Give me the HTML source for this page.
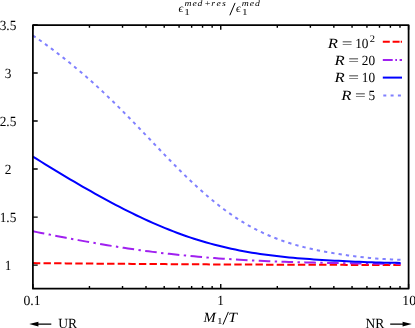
<!DOCTYPE html>
<html><head><meta charset="utf-8"><title>plot</title>
<style>html,body{margin:0;padding:0;background:#fff;overflow:hidden}svg{display:block;will-change:transform}text{font-family:"Liberation Serif",serif;fill:#000;text-rendering:geometricPrecision}</style></head>
<body>
<svg width="415" height="328" viewBox="0 0 415 328">
<rect x="0" y="0" width="415" height="328" fill="#fff"/>
<g fill="none" stroke-width="2" stroke-linecap="butt" stroke-linejoin="round">
<path d="M32.90,263.09 L37.03,263.13 L41.16,263.16 L45.29,263.20 L49.43,263.24 L53.56,263.27 L57.69,263.31 L61.82,263.35 L65.95,263.38 L70.08,263.42 L74.21,263.45 L78.35,263.49 L82.48,263.52 L86.61,263.55 L90.74,263.59 L94.87,263.62 L99.00,263.65 L103.13,263.68 L107.27,263.72 L111.40,263.75 L115.53,263.78 L119.66,263.81 L123.79,263.84 L127.92,263.87 L132.06,263.90 L136.19,263.93 L140.32,263.95 L144.45,263.98 L148.58,264.01 L152.71,264.04 L156.84,264.06 L160.98,264.09 L165.11,264.12 L169.24,264.14 L173.37,264.17 L177.50,264.19 L181.63,264.22 L185.76,264.24 L189.90,264.27 L194.03,264.29 L198.16,264.31 L202.29,264.33 L206.42,264.36 L210.55,264.38 L214.68,264.40 L218.82,264.42 L222.95,264.44 L227.08,264.46 L231.21,264.48 L235.34,264.50 L239.47,264.52 L243.60,264.54 L247.74,264.56 L251.87,264.58 L256.00,264.59 L260.13,264.61 L264.26,264.63 L268.39,264.64 L272.52,264.66 L276.66,264.67 L280.79,264.69 L284.92,264.70 L289.05,264.72 L293.18,264.73 L297.31,264.75 L301.44,264.76 L305.58,264.77 L309.71,264.79 L313.84,264.80 L317.97,264.81 L322.10,264.82 L326.23,264.83 L330.37,264.84 L334.50,264.85 L338.63,264.86 L342.76,264.87 L346.89,264.88 L351.02,264.89 L355.15,264.90 L359.29,264.90 L363.42,264.91 L367.55,264.92 L371.68,264.93 L375.81,264.93 L379.94,264.94 L384.07,264.94 L388.21,264.95 L392.34,264.95 L396.47,264.96 L400.60,264.96" stroke="#ff0000" stroke-dasharray="7.4 3.2"/>
<path d="M32.90,231.33 L37.03,232.14 L41.16,232.96 L45.29,233.77 L49.43,234.58 L53.56,235.39 L57.69,236.19 L61.82,236.99 L65.95,237.78 L70.08,238.56 L74.21,239.34 L78.35,240.11 L82.48,240.87 L86.61,241.62 L90.74,242.36 L94.87,243.08 L99.00,243.80 L103.13,244.50 L107.27,245.19 L111.40,245.87 L115.53,246.54 L119.66,247.19 L123.79,247.82 L127.92,248.44 L132.06,249.05 L136.19,249.64 L140.32,250.22 L144.45,250.79 L148.58,251.33 L152.71,251.87 L156.84,252.38 L160.98,252.88 L165.11,253.37 L169.24,253.84 L173.37,254.30 L177.50,254.74 L181.63,255.17 L185.76,255.58 L189.90,255.98 L194.03,256.36 L198.16,256.73 L202.29,257.09 L206.42,257.43 L210.55,257.76 L214.68,258.08 L218.82,258.38 L222.95,258.67 L227.08,258.95 L231.21,259.21 L235.34,259.47 L239.47,259.71 L243.60,259.95 L247.74,260.17 L251.87,260.38 L256.00,260.58 L260.13,260.78 L264.26,260.96 L268.39,261.14 L272.52,261.31 L276.66,261.46 L280.79,261.62 L284.92,261.76 L289.05,261.90 L293.18,262.03 L297.31,262.15 L301.44,262.27 L305.58,262.38 L309.71,262.49 L313.84,262.59 L317.97,262.69 L322.10,262.79 L326.23,262.87 L330.37,262.96 L334.50,263.04 L338.63,263.12 L342.76,263.19 L346.89,263.26 L351.02,263.33 L355.15,263.39 L359.29,263.45 L363.42,263.51 L367.55,263.56 L371.68,263.61 L375.81,263.66 L379.94,263.71 L384.07,263.75 L388.21,263.78 L392.34,263.82 L396.47,263.85 L400.60,263.88" stroke="#a020f0" stroke-dasharray="11.6 4.4 2.4 4.4"/>
<path d="M32.90,156.57 L37.03,159.16 L41.16,161.73 L45.29,164.29 L49.43,166.83 L53.56,169.35 L57.69,171.85 L61.82,174.34 L65.95,176.81 L70.08,179.27 L74.21,181.70 L78.35,184.12 L82.48,186.51 L86.61,188.89 L90.74,191.24 L94.87,193.57 L99.00,195.87 L103.13,198.15 L107.27,200.40 L111.40,202.62 L115.53,204.81 L119.66,206.97 L123.79,209.09 L127.92,211.18 L132.06,213.22 L136.19,215.24 L140.32,217.21 L144.45,219.14 L148.58,221.03 L152.71,222.87 L156.84,224.67 L160.98,226.42 L165.11,228.13 L169.24,229.79 L173.37,231.40 L177.50,232.96 L181.63,234.48 L185.76,235.94 L189.90,237.35 L194.03,238.71 L198.16,240.02 L202.29,241.28 L206.42,242.49 L210.55,243.65 L214.68,244.77 L218.82,245.83 L222.95,246.84 L227.08,247.81 L231.21,248.73 L235.34,249.60 L239.47,250.43 L243.60,251.21 L247.74,251.96 L251.87,252.66 L256.00,253.32 L260.13,253.95 L264.26,254.54 L268.39,255.09 L272.52,255.61 L276.66,256.10 L280.79,256.56 L284.92,256.99 L289.05,257.40 L293.18,257.78 L297.31,258.14 L301.44,258.48 L305.58,258.80 L309.71,259.11 L313.84,259.39 L317.97,259.67 L322.10,259.93 L326.23,260.17 L330.37,260.41 L334.50,260.64 L338.63,260.86 L342.76,261.07 L346.89,261.27 L351.02,261.47 L355.15,261.66 L359.29,261.84 L363.42,262.01 L367.55,262.17 L371.68,262.32 L375.81,262.46 L379.94,262.58 L384.07,262.69 L388.21,262.77 L392.34,262.84 L396.47,262.87 L400.60,262.88" stroke="#0000ff"/>
<path d="M32.90,35.46 L35.99,37.56 L39.08,39.71 L42.17,41.89 L45.26,44.11 L48.35,46.37 L51.44,48.66 L54.53,50.98 L57.62,53.34 L60.71,55.72 L63.80,58.14 L66.89,60.60 L69.98,63.09 L73.07,65.61 L76.16,68.17 L79.25,70.76 L82.34,73.40 L85.43,76.07 L88.52,78.77 L91.61,81.52 L94.70,84.30 L97.79,87.12 L100.88,89.98 L103.97,92.88 L107.06,95.82 L110.15,98.79 L113.24,101.79 L116.33,104.83 L119.42,107.90 L122.51,111.00 L125.60,114.13 L128.69,117.28 L131.78,120.45 L134.87,123.65 L137.96,126.86 L141.05,130.09 L144.14,133.32 L147.23,136.57 L150.32,139.81 L153.41,143.06 L156.50,146.31 L159.59,149.55 L162.68,152.77 L165.77,155.99 L168.86,159.18 L171.95,162.35 L175.04,165.50 L178.13,168.62 L181.22,171.70 L184.31,174.75 L187.40,177.76 L190.49,180.73 L193.58,183.65 L196.67,186.52 L199.76,189.33 L202.85,192.10 L205.94,194.81 L209.03,197.45 L212.12,200.04 L215.21,202.56 L218.29,205.02 L221.38,207.41 L224.47,209.74 L227.56,211.99 L230.65,214.18 L233.74,216.29 L236.83,218.34 L239.92,220.32 L243.01,222.22 L246.10,224.06 L249.19,225.83 L252.28,227.52 L255.37,229.16 L258.46,230.72 L261.55,232.22 L264.64,233.66 L267.73,235.03 L270.82,236.34 L273.91,237.60 L277.00,238.79 L280.09,239.94 L283.18,241.03 L286.27,242.07 L289.36,243.06 L292.45,244.01 L295.54,244.91 L298.63,245.77 L301.72,246.59 L304.81,247.38 L307.90,248.12 L310.99,248.84 L314.08,249.53 L317.17,250.18 L320.26,250.81 L323.35,251.41 L326.44,251.99 L329.53,252.54 L332.62,253.07 L335.71,253.58 L338.80,254.07 L341.89,254.54 L344.98,254.99 L348.07,255.42 L351.16,255.83 L354.25,256.23 L357.34,256.60 L360.43,256.96 L363.52,257.29 L366.61,257.61 L369.70,257.91 L372.79,258.19 L375.88,258.45 L378.97,258.69 L382.06,258.91 L385.15,259.11 L388.24,259.29 L391.33,259.45 L394.42,259.60 L397.51,259.73 L400.60,259.84" stroke="#8080ff" stroke-dasharray="3.3 4.07"/>
</g>
<path d="M32.90,25.00h4.80M32.90,73.02h4.80M32.90,121.04h4.80M32.90,169.06h4.80M32.90,217.08h4.80M32.90,265.10h4.80M32.90,288.70v-4.80M32.90,25.00v4.80M220.75,288.70v-4.80M220.75,25.00v4.80M408.60,288.70v-4.80M408.60,25.00v4.80M89.45,288.70v-2.80M89.45,25.00v2.80M122.53,288.70v-2.80M122.53,25.00v2.80M146.00,288.70v-2.80M146.00,25.00v2.80M164.20,288.70v-2.80M164.20,25.00v2.80M179.08,288.70v-2.80M179.08,25.00v2.80M191.65,288.70v-2.80M191.65,25.00v2.80M202.55,288.70v-2.80M202.55,25.00v2.80M212.15,288.70v-2.80M212.15,25.00v2.80M277.30,288.70v-2.80M277.30,25.00v2.80M310.38,288.70v-2.80M310.38,25.00v2.80M333.85,288.70v-2.80M333.85,25.00v2.80M352.05,288.70v-2.80M352.05,25.00v2.80M366.93,288.70v-2.80M366.93,25.00v2.80M379.50,288.70v-2.80M379.50,25.00v2.80M390.40,288.70v-2.80M390.40,25.00v2.80M400.00,288.70v-2.80M400.00,25.00v2.80" stroke="#000" stroke-width="1.4" fill="none"/>
<rect x="32.90" y="25.00" width="375.70" height="263.70" fill="none" stroke="#000" stroke-width="1.75" stroke-linejoin="round"/>
<text transform="translate(8.00 29.50) scale(0.950 1.000)" font-size="14.00" text-anchor="middle">3.5</text>
<text transform="translate(8.00 77.52) scale(0.950 1.000)" font-size="14.00" text-anchor="middle">3</text>
<text transform="translate(8.00 125.54) scale(0.950 1.000)" font-size="14.00" text-anchor="middle">2.5</text>
<text transform="translate(8.00 173.56) scale(0.950 1.000)" font-size="14.00" text-anchor="middle">2</text>
<text transform="translate(8.00 221.58) scale(0.950 1.000)" font-size="14.00" text-anchor="middle">1.5</text>
<text transform="translate(8.00 269.60) scale(0.950 1.000)" font-size="14.00" text-anchor="middle">1</text>
<text transform="translate(32.00 305.30) scale(0.980 1.000)" font-size="14.00" text-anchor="middle">0.1</text>
<text transform="translate(220.60 305.30) scale(0.950 1.000)" font-size="14.00" text-anchor="middle">1</text>
<text transform="translate(409.20 305.30) scale(0.980 1.000)" font-size="14.00" text-anchor="middle">10</text>
<text transform="translate(178.40 12.40) scale(1.000 1.000)" font-size="11.80" font-style="italic">ϵ</text>
<text transform="translate(184.20 15.00) scale(1.250 1.000)" font-size="9.00">1</text>
<text transform="translate(184.40 6.30) scale(1.080 0.920)" font-size="9.00" font-style="italic" x="0.00 7.41 12.22 18.33 24.91 29.81 34.81">med+res</text>
<path d="M229.8,15.3L235.1,2.9" stroke="#000" stroke-width="1.0" fill="none"/>
<text transform="translate(236.10 12.40) scale(1.000 1.000)" font-size="11.80" font-style="italic">ϵ</text>
<text transform="translate(241.90 15.00) scale(1.250 1.000)" font-size="9.00">1</text>
<text transform="translate(241.70 6.30) scale(1.080 0.920)" font-size="9.00" font-style="italic" x="0.00 7.50 12.31">med</text>
<text transform="translate(203.50 321.70) scale(1.050 1.000)" font-size="14.00" font-style="italic">M</text>
<text transform="translate(216.90 324.30) scale(1.250 1.000)" font-size="9.00">1</text>
<path d="M223.0,324.6L228.4,311.9" stroke="#000" stroke-width="1.0" fill="none"/>
<text transform="translate(228.20 321.70) scale(1.120 1.000)" font-size="14.00" font-style="italic">T</text>
<text transform="translate(58.20 327.50) scale(0.970 1.000)" font-size="14.00">UR</text>
<text transform="translate(365.40 327.50) scale(0.970 1.000)" font-size="14.00">NR</text>
<path d="M37.5,324.1H51.3M390.2,324.1H404" stroke="#000" stroke-width="1.45" fill="none"/>
<path d="M29.2,324.1L38.4,321.7V326.5ZM411.8,324.1L402.6,321.7V326.5Z" fill="#000"/>
<text transform="translate(327.80 47.60) scale(1.200 1.000)" font-size="14.00" font-style="italic">R</text>
<text transform="translate(341.70 47.60) scale(1.360 1.000)" font-size="14.00">=</text>
<text transform="translate(355.20 47.60) scale(0.950 1.000)" font-size="14.00">10</text>
<text transform="translate(369.70 42.40) scale(1.050 1.000)" font-size="10.00">2</text>
<text transform="translate(334.40 64.70) scale(1.200 1.000)" font-size="14.00" font-style="italic">R</text>
<text transform="translate(348.30 64.70) scale(1.360 1.000)" font-size="14.00">=</text>
<text transform="translate(361.80 64.70) scale(0.950 1.000)" font-size="14.00">20</text>
<text transform="translate(334.40 81.80) scale(1.200 1.000)" font-size="14.00" font-style="italic">R</text>
<text transform="translate(348.30 81.80) scale(1.360 1.000)" font-size="14.00">=</text>
<text transform="translate(361.80 81.80) scale(0.950 1.000)" font-size="14.00">10</text>
<text transform="translate(341.20 99.50) scale(1.200 1.000)" font-size="14.00" font-style="italic">R</text>
<text transform="translate(355.10 99.50) scale(1.360 1.000)" font-size="14.00">=</text>
<text transform="translate(368.60 99.50) scale(0.950 1.000)" font-size="14.00">5</text>
<g fill="none" stroke-width="2">
<path d="M382.8,41.7H402" stroke="#ff0000" stroke-dasharray="7 2.8 7 1.1 1.3 5"/>
<path d="M382.8,60H402" stroke="#a020f0" stroke-dasharray="9.9 2.6 1.7 2.6 2.4 10"/>
<path d="M382.8,77.6H402" stroke="#0000ff"/>
<path d="M383.3,95.4H401.6" stroke="#8080ff" stroke-dasharray="3 4.3"/>
</g>
</svg></body></html>
